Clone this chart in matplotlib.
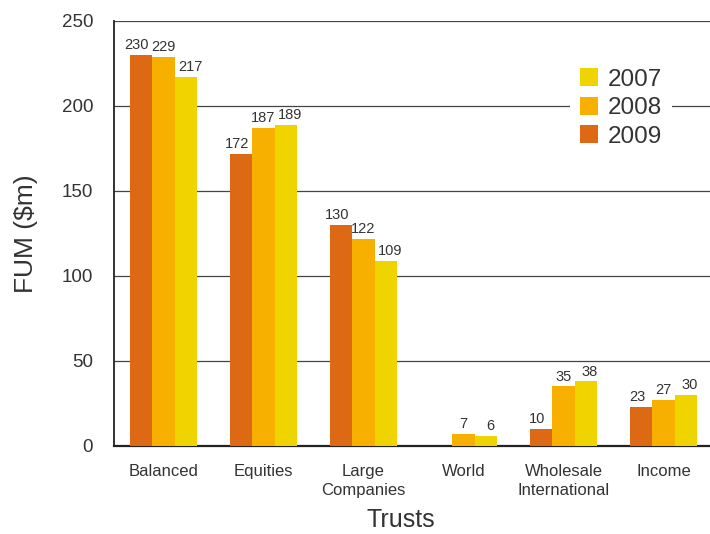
import numpy as np
import matplotlib
matplotlib.use("Agg")
import matplotlib.pyplot as plt

# Funds under management by trust, $m
categories = ["Balanced", "Equities", "Large\nCompanies", "World",
              "Wholesale\nInternational", "Income"]
years = ["2009", "2008", "2007"]
fum_2009 = [230, 172, 130, np.nan, 10, 23]
fum_2008 = [229, 187, 122, 7, 35, 27]
fum_2007 = [217, 189, 109, 6, 38, 30]
y_ticks = [0, 50, 100, 150, 200, 250]

colors = {"2009": "#DD6914", "2008": "#F8B000", "2007": "#F0D400"}
text_color = "#333333"

plt.rcParams["font.family"] = ["Liberation Sans", "DejaVu Sans"]

fig = plt.figure(figsize=(7.1, 5.34), dpi=100)
ax = fig.add_axes([0.1606, 0.1648, 0.8394, 0.7959])

x = np.arange(len(categories))
width = 0.225
series = {"2009": fum_2009, "2008": fum_2008, "2007": fum_2007}
handles = {}
for i, yr in enumerate(years):
    vals = np.array(series[yr], dtype=float)
    pos = x + (i - 1) * width
    handles[yr] = ax.bar(pos, np.nan_to_num(vals), width, color=colors[yr],
                         zorder=3, label=yr)
    for p, v in zip(pos, vals):
        if np.isnan(v):
            continue
        # nudge outer labels apart a little so neighbours don't collide
        ax.annotate(f"{int(v)}", (p, v), xytext=((i - 1) * 2.9, 2),
                    textcoords="offset points", ha="center", va="bottom",
                    fontsize=10.5, color=text_color, zorder=4)

ax.set_xlim(-0.495, 5.465)
ax.set_ylim(0, 250)
ax.set_yticks(y_ticks)
ax.set_xticks(x)
ax.set_xticklabels(categories, fontsize=12, color=text_color, linespacing=1.35)
ax.tick_params(axis="y", labelsize=13.5, colors=text_color, length=0, pad=15)
ax.tick_params(axis="x", length=0, pad=13)
ax.yaxis.grid(True, color="#444444", linewidth=0.9, zorder=0)
ax.set_axisbelow(True)

ax.spines["right"].set_visible(False)
ax.spines["top"].set_visible(False)
ax.spines["left"].set_color("#222222")
ax.spines["left"].set_linewidth(1.3)
ax.spines["bottom"].set_color("#222222")
ax.spines["bottom"].set_linewidth(1.6)

ax.set_ylabel("FUM ($m)", fontsize=19, color=text_color, labelpad=17)
ax.set_xlabel("Trusts", fontsize=18, color=text_color, labelpad=7)
ax.xaxis.label.set_x(0.4815)

leg = ax.legend([handles["2007"], handles["2008"], handles["2009"]],
                ["2007", "2008", "2009"], loc="upper left",
                bbox_to_anchor=(0.745, 0.94), fontsize=17.5, frameon=True,
                handlelength=0.75, handleheight=0.75, handletextpad=0.4,
                labelspacing=0.25, borderpad=0.4, labelcolor=text_color)
leg.get_frame().set_facecolor("white")
leg.get_frame().set_edgecolor("none")
leg.get_frame().set_alpha(1)

fig.savefig("out.png", dpi=100)
